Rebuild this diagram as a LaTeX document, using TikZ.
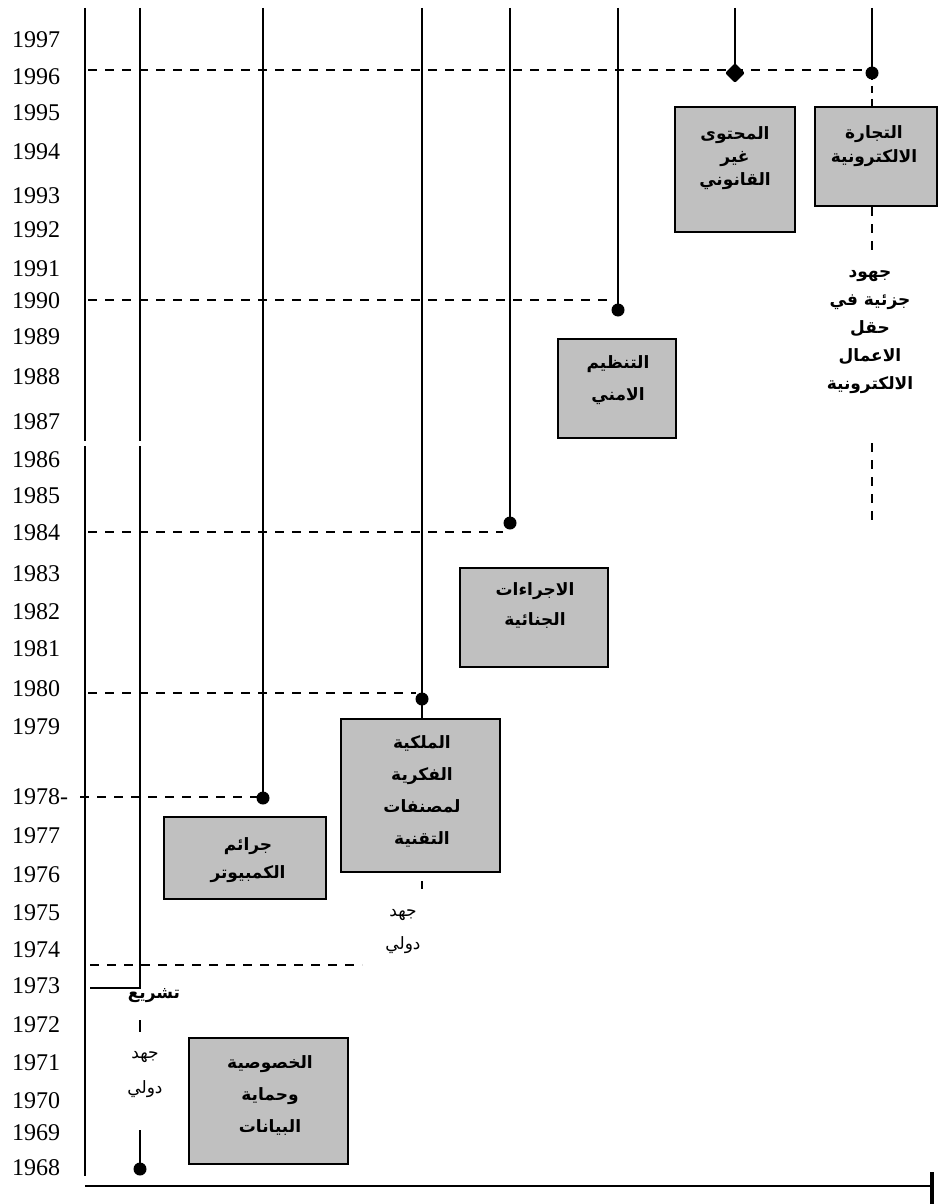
\documentclass[tikz,border=0pt]{standalone}
\usepackage{fontspec}
\setmainfont{Liberation Serif}
\newfontfamily\arfont[Script=Arabic]{DejaVu Sans}
\TeXXeTstate=1
\usetikzlibrary{shapes.geometric}
\definecolor{boxgray}{RGB}{192,192,192}
\newcommand{\rl}[1]{\beginR #1\endR}
\begin{document}
\begin{tikzpicture}[x=1pt,y=-1pt,
  yr/.style={font=\fontsize{24}{24}\selectfont, anchor=west, inner sep=0pt},
  boxnode/.style={draw, line width=2pt, fill=boxgray, inner sep=0pt},
  artxt/.style={font=\arfont\bfseries\fontsize{17}{#1}\selectfont, align=center, inner sep=0pt},
  arlight/.style={font=\arfont\fontsize{17}{#1}\selectfont, align=center, inner sep=0pt},
  solidline/.style={line width=1.8pt},
  dashline/.style={line width=1.6pt, dash pattern=on 9pt off 8pt},
  dotnode/.style={circle, fill=black, inner sep=0pt, minimum size=13pt},
  bigdot/.style={diamond, fill=black, inner sep=0pt, minimum size=20pt, rounded corners=2pt}
]
\fill[white] (0,0) rectangle (940,1204);
\useasboundingbox (0,0) rectangle (940,1204);

% year labels
\foreach \yy/\yr in {40/1997,77/1996,113/1995,152/1994,196/1993,230/1992,269/1991,301/1990,337/1989,377/1988,422/1987,460/1986,496/1985,533/1984,574/1983,612/1982,649/1981,689/1980,727/1979,836/1977,875/1976,913/1975,950/1974,986/1973,1025/1972,1063/1971,1101/1970,1133/1969,1168/1968}
  \node[yr] (y\yr) at (12,\yy) {\yr};
\node[yr] (y1978) at (12,797) {1978-};

% axes
\coordinate (axTop) at (85,8);
\coordinate (axGapA) at (85,441);
\coordinate (axGapB) at (85,446);
\coordinate (axBot) at (85,1176);
\draw[solidline] (axTop) -- (axGapA);
\draw[solidline] (axGapB) -- (axBot);
\coordinate (baseL) at (85,1186);
\coordinate (baseR) at (932,1186);
\draw[line width=1.6pt] (baseL) -- (baseR);
\coordinate (tickT) at (932,1172);
\coordinate (tickB) at (932,1204);
\draw[line width=4pt] (tickT) -- (tickB);

% legislation line
\coordinate (legTop) at (140,8);
\coordinate (legGapA) at (140,441);
\coordinate (legGapB) at (140,446);
\coordinate (legCorner) at (140,988);
\coordinate (legEnd) at (90,988);
\draw[solidline] (legTop) -- (legGapA);
\draw[solidline] (legGapB) -- (legCorner) -- (legEnd);

% dots
\node[dotnode] (d1968) at (140,1169) {};
\node[dotnode] (d1978) at (263,798) {};
\node[dotnode] (d1980) at (422,699) {};
\node[dotnode] (d1984) at (510,523) {};
\node[dotnode] (d1990) at (618,310) {};
\node[bigdot] (d1996a) at (735,73) {};
\node[dotnode] (d1996b) at (872,73) {};

% vertical lines from top
\coordinate (t1978) at (263,8);
\coordinate (t1980) at (422,8);
\coordinate (t1984) at (510,8);
\coordinate (t1990) at (618,8);
\coordinate (t1996a) at (735,8);
\coordinate (t1996b) at (872,8);
\draw[solidline] (t1978) -- (d1978.center);
\draw[solidline] (t1980) -- (d1980.center);
\draw[solidline] (t1984) -- (d1984.center);
\draw[solidline] (t1990) -- (d1990.center);
\draw[solidline] (t1996a) -- (d1996a.center);
\draw[solidline] (t1996b) -- (d1996b.center);
\coordinate (s1968) at (140,1130);
\draw[solidline] (s1968) -- (d1968.center);

% dashed horizontals
\coordinate (h96a) at (88,70);  \coordinate (h96b) at (862,70);
\coordinate (h90a) at (88,300); \coordinate (h90b) at (612,300);
\coordinate (h84a) at (88,532); \coordinate (h84b) at (503,532);
\coordinate (h80a) at (88,693); \coordinate (h80b) at (416,693);
\coordinate (h78a) at (80,797); \coordinate (h78b) at (257,797);
\coordinate (h73a) at (90,965); \coordinate (h73b) at (362,965);
\draw[dashline] (h96a) -- (h96b);
\draw[dashline] (h90a) -- (h90b);
\draw[dashline] (h84a) -- (h84b);
\draw[dashline] (h80a) -- (h80b);
\draw[dashline] (h78a) -- (h78b);
\draw[dashline] (h73a) -- (h73b);

% boxes
\node[boxnode, minimum width=120pt, minimum height=125pt] (bContent) at (735,169.5) {};
\node[boxnode, minimum width=122pt, minimum height=99pt] (bCommerce) at (876,156.5) {};
\node[boxnode, minimum width=118pt, minimum height=99pt] (bSecurity) at (617,388.5) {};
\node[boxnode, minimum width=148pt, minimum height=99pt] (bCriminal) at (534,617.5) {};
\node[boxnode, minimum width=159pt, minimum height=153pt] (bIP) at (420.5,795.5) {};
\node[boxnode, minimum width=162pt, minimum height=82pt] (bCrimes) at (245,858) {};
\node[boxnode, minimum width=159pt, minimum height=126pt] (bPrivacy) at (268.5,1101) {};

% connectors to boxes
\coordinate (ipTop) at (422,719);
\draw[solidline] (d1980.center) -- (ipTop);
\coordinate (comTop) at (872,107);
\draw[dashline, dash pattern=on 7pt off 6pt] (d1996b.center) -- (comTop);
\coordinate (comBelowA) at (872,207);
\coordinate (comBelowB) at (872,250);
\draw[dashline, dash pattern=on 9pt off 8pt] (comBelowA) -- (comBelowB);
\coordinate (partA) at (872,443);
\coordinate (partB) at (872,521);
\draw[dashline, dash pattern=on 9pt off 8pt] (partA) -- (partB);
\coordinate (ipTickA) at (422,881);
\coordinate (ipTickB) at (422,889);
\draw[line width=1.6pt] (ipTickA) -- (ipTickB);
\coordinate (legTickA) at (140,1020);
\coordinate (legTickB) at (140,1032);
\draw[line width=1.6pt] (legTickA) -- (legTickB);

% texts
\node[artxt=23] (tContent) at (735,158) {\rl{المحتوى}\\\rl{غير}\\\rl{القانوني}};
\node[artxt=24] (tCommerce) at (874,146) {\rl{التجارة}\\\rl{الالكترونية}};
\node[artxt=28] (tPartial) at (870,332) {\rl{جهود}\\\rl{جزئية في}\\\rl{حقل}\\\rl{الاعمال}\\\rl{الالكترونية}};
\node[artxt=32] (tSecurity) at (618,380) {\rl{التنظيم}\\\rl{الامني}};
\node[artxt=30] (tCriminal) at (535,606) {\rl{الاجراءات}\\\rl{الجنائية}};
\node[artxt=32] (tIP) at (422,791) {\rl{الملكية}\\\rl{الفكرية}\\\rl{لمصنفات}\\\rl{التقنية}};
\node[artxt=28] (tCrimes) at (248,860) {\rl{جرائم}\\\rl{الكمبيوتر}};
\node[artxt=32] (tPrivacy) at (270,1096) {\rl{الخصوصية}\\\rl{وحماية}\\\rl{البيانات}};
\node[artxt=20] (tLeg) at (154,996) {\rl{تشريع}};
\node[arlight=33] (tIntl1) at (403,932) {\rl{جهد}\\\rl{دولي}};
\node[arlight=35] (tIntl2) at (145,1075) {\rl{جهد}\\\rl{دولي}};
\end{tikzpicture}
\end{document}
